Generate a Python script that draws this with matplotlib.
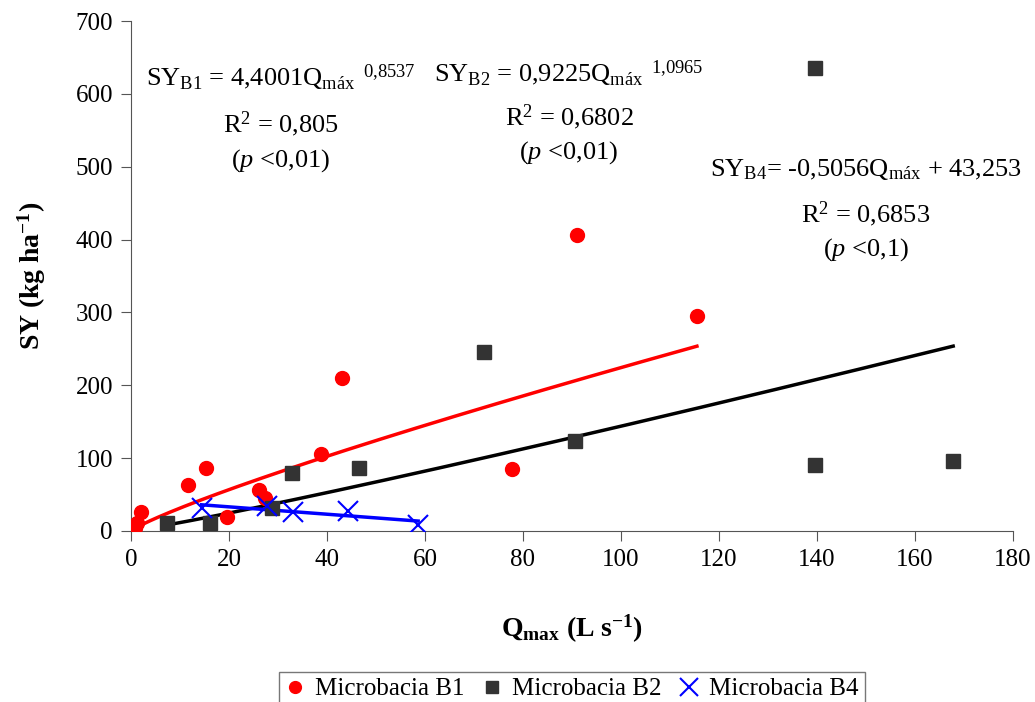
import numpy as np
import matplotlib
matplotlib.use('Agg')
import matplotlib.pyplot as plt

plt.rcParams['font.family'] = ['Liberation Serif', 'DejaVu Serif']
plt.rcParams['mathtext.fontset'] = 'custom'
plt.rcParams['mathtext.rm'] = 'Liberation Serif'
plt.rcParams['mathtext.it'] = 'Liberation Serif:italic'
plt.rcParams['mathtext.bf'] = 'Liberation Serif:bold'

# Microbacia B1 (red circles)
b1_q = [0.4, 0.8, 1.2, 2.0, 11.6, 15.3, 19.6, 26.1, 27.3, 38.8, 43.0, 77.8, 91.0, 115.5]
b1_sy = [1, 4, 11, 26, 63, 86, 19, 56, 45, 106, 210, 85, 406, 295]
# Microbacia B2 (squares)
b2_q = [7.3, 16.1, 28.7, 32.9, 46.5, 72.0, 90.6, 139.6, 139.6, 167.8]
b2_sy = [11, 11, 32, 80, 86, 246, 124, 635, 91, 96]
# Microbacia B4 (crosses)
b4_q = [14.4, 27.7, 33.0, 44.3, 58.6]
b4_sy = [32, 34, 26, 28, 8]

# fitted equations as printed on the chart
b1_coef = [4.4001, 0.8537]   # power
b2_coef = [0.9225, 1.0965]   # power
b4_coef = [-0.5056, 43.253]  # linear

fig = plt.figure(figsize=(10.35, 7.02), dpi=100)
ax = fig.add_axes([0.1266, 0.2436, 0.8521, 0.7264])

ax.plot(b1_q, b1_sy, 'o', color='#ff0000', ms=10, mec='#ff0000', zorder=3)
ax.plot(b2_q, b2_sy, 's', color='#333333', ms=10, zorder=3)
ax.plot(b4_q, b4_sy, 'x', color='#0000ff', ms=15, mew=1.5, zorder=3)

x1 = np.linspace(min(b1_q), max(b1_q), 200)
ax.plot(x1, b1_coef[0] * x1 ** b1_coef[1], color='#ff0000', lw=2.5, zorder=2)
x2 = np.linspace(min(b2_q), max(b2_q), 200)
ax.plot(x2, b2_coef[0] * x2 ** b2_coef[1], color='black', lw=2.5, zorder=2)
x4 = np.array([min(b4_q), max(b4_q)])
ax.plot(x4, b4_coef[0] * x4 + b4_coef[1], color='#0000ff', lw=2.5, zorder=2)

ax.set_xlim(0, 180)
ax.set_ylim(0, 700)
ax.set_xticks(np.arange(0, 181, 20))
ax.set_yticks(np.arange(0, 701, 100))
for s in ['top', 'right']:
    ax.spines[s].set_visible(False)
for s in ['left', 'bottom']:
    ax.spines[s].set_color('#555555')
ax.tick_params(direction='out', length=7, color='#555555', labelsize=18, pad=6)

ax.set_xlabel(r'$\mathbf{Q_{max}}$ $\mathbf{(L\ s^{-1})}$', fontsize=20, labelpad=30)
ax.set_ylabel(r'$\mathbf{SY\ (kg\ ha^{-1})}$', fontsize=20, labelpad=20)

t = dict(fontsize=19, ha='center', va='center')
ax.text(30.6, 622, r'SY$_{\mathrm{B1}}$ = 4,4001Q$_{\mathrm{máx}}$$^{\ \ \mathrm{0{,}8537}}$', **t)
ax.text(30.6, 559, r'R$^{2}$ = 0,805', **t)
ax.text(30.6, 509, r'($p$ <0,01$\it{)}$', **t)
ax.text(89.4, 627, r'SY$_{\mathrm{B2}}$ = 0,9225Q$_{\mathrm{máx}}$$^{\ \ \mathrm{1{,}0965}}$', **t)
ax.text(89.4, 568, r'R$^{2}$ = 0,6802', **t)
ax.text(89.4, 520, r'($p$ <0,01)', **t)
ax.text(150, 496, r'SY$_{\mathrm{B4}}$= -0,5056Q$_{\mathrm{máx}}$ + 43,253', **t)
ax.text(150, 435, r'R$^{2}$ = 0,6853', **t)
ax.text(150, 386, r'($p$ <0,1)', **t)

handles = ax.get_lines()[:3]
leg = fig.legend(handles, ['Microbacia B1', 'Microbacia B2', 'Microbacia B4'],
                 loc='center', bbox_to_anchor=(0.5525, 0.0185), ncol=3, fontsize=18,
                 frameon=True, fancybox=False, edgecolor='#555555',
                 handlelength=0.8, handletextpad=0.4, columnspacing=0.7,
                 borderpad=0.25, markerscale=0.85)
leg.get_frame().set_linewidth(1.0)

fig.savefig('out.png', dpi=100)
